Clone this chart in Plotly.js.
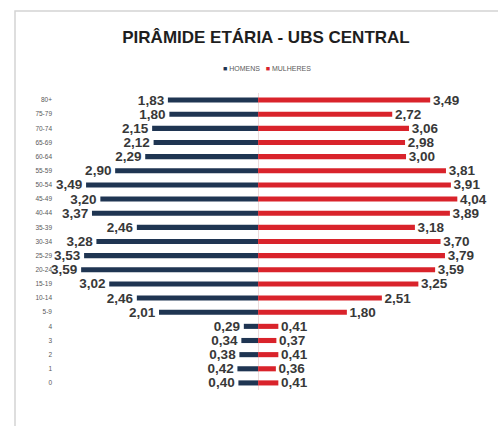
<!DOCTYPE html>
<html>
<head>
<meta charset="utf-8">
<script src="https://cdn.plot.ly/plotly-3.0.1.min.js"></script>
<style>html,body{margin:0;padding:0;background:#fff;}#chart{width:498px;height:426px;}</style>
</head>
<body>
<div id="chart"></div>
<script>
const ageGroups = ["80+","75-79","70-74","65-69","60-64","55-59","50-54","45-49","40-44","35-39","30-34","25-29","20-24","15-19","10-14","5-9","4","3","2","1","0"];
const homens   = [1.83,1.80,2.15,2.12,2.29,2.90,3.49,3.20,3.37,2.46,3.28,3.53,3.59,3.02,2.46,2.01,0.29,0.34,0.38,0.42,0.40];
const mulheres = [3.49,2.72,3.06,2.98,3.00,3.81,3.91,4.04,3.89,3.18,3.70,3.79,3.59,3.25,2.51,1.80,0.41,0.37,0.41,0.36,0.41];
const seriesNames = ['HOMENS', 'MULHERES'];
const seriesColors = ['#1f3552', '#d9232b'];

const fmt = v => v.toFixed(2).replace('.', ',');
const labelFont = {family: "Liberation Sans, Arial, sans-serif", size: 13.5, color: "#383838", weight: 'bold'};

const traces = [
  {
    type: 'bar', orientation: 'h', name: seriesNames[0],
    y: ageGroups, x: homens.map(v => -v),
    text: homens.map(v => fmt(v) + '\u00a0'), textposition: 'outside', textfont: labelFont, constraintext: 'none',
    marker: {color: seriesColors[0]}, width: 0.36, cliponaxis: false, hoverinfo: 'skip'
  },
  {
    type: 'bar', orientation: 'h', name: seriesNames[1],
    y: ageGroups, x: mulheres,
    text: mulheres.map(v => '\u2009' + fmt(v)), textposition: 'outside', textfont: labelFont, constraintext: 'none',
    marker: {color: seriesColors[1]}, width: 0.36, cliponaxis: false, hoverinfo: 'skip'
  }
];

const pw = 498 - 55 - 19, ph = 426 - 93 - 36;
const px = x => (x - 55) / pw;
const py = y => (426 - 36 - y) / ph;

const legendText = seriesNames.map((n, i) =>
  '<span style="color:' + seriesColors[i] + '">■</span> ' + n).join('   ');

const layout = {
  width: 498, height: 426,
  margin: {l: 55, r: 19, t: 93, b: 36},
  paper_bgcolor: '#ffffff', plot_bgcolor: '#ffffff',
  barmode: 'overlay',
  title: {text: 'PIRÂMIDE ETÁRIA - UBS CENTRAL', x: px(266), xref: 'paper', xanchor: 'center', y: 1 - 37/426, yref: 'container', yanchor: 'middle',
          font: {family: "Liberation Sans, Arial, sans-serif", size: 17, color: '#1e1e1e', weight: 'bold'}},
  showlegend: false,
  annotations: [{text: legendText, xref: 'paper', yref: 'paper', x: px(267), y: py(68), xanchor: 'center', yanchor: 'middle',
                 showarrow: false, font: {family: "Liberation Sans, Arial, sans-serif", size: 7, color: '#595959'}}],
  xaxis: {range: [-4.12, 4.48], showticklabels: false, showgrid: false, zeroline: true, zerolinecolor: '#ecdcdc', zerolinewidth: 1, fixedrange: true},
  yaxis: {type: 'category', categoryorder: 'array', categoryarray: ageGroups, range: [20.5, -0.5], showgrid: false, zeroline: false,
          tickfont: {family: "Liberation Sans, Arial, sans-serif", size: 6.5, color: '#595959'}, ticks: '', ticklabelstandoff: 2, fixedrange: true},
  shapes: [{type: 'rect', xref: 'paper', yref: 'paper', x0: px(15), x1: px(505), y0: py(440), y1: py(11),
            line: {color: '#d4d4d4', width: 1.5}, fillcolor: 'rgba(0,0,0,0)', layer: 'below'}]
};

Plotly.newPlot('chart', traces, layout, {displayModeBar: false, staticPlot: true});
</script>
</body>
</html>
